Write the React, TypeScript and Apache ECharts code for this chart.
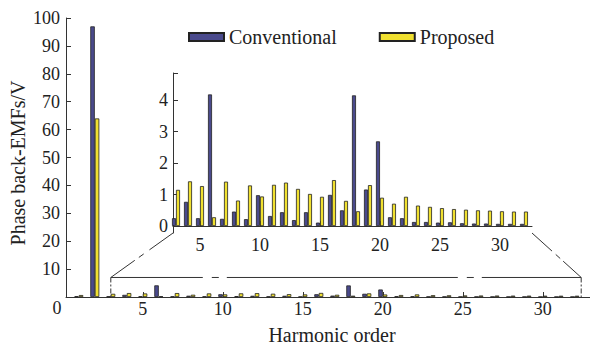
import React, { useEffect, useRef } from "react";
import * as echarts from "echarts";

const harmonics = [1, 2, 3, 4, 5, 6, 7, 8, 9, 10, 11, 12, 13, 14, 15, 16, 17, 18, 19, 20, 21, 22, 23, 24, 25, 26, 27, 28, 29, 30, 31, 32];
const conventional = [0.3, 97, 0.25, 0.77, 0.25, 4.18, 0.23, 0.46, 0.22, 0.98, 0.32, 0.44, 0.19, 0.44, 0.11, 0.99, 0.5, 4.15, 1.16, 2.69, 0.28, 0.25, 0.13, 0.13, 0.11, 0.12, 0.09, 0.08, 0.08, 0.07, 0.07, 0.07];
const proposed = [0.7, 64, 1.15, 1.42, 1.27, 0.28, 1.41, 0.81, 1.29, 0.94, 1.31, 1.38, 1.18, 1.02, 0.93, 1.46, 0.8, 0.47, 1.3, 0.9, 0.71, 0.93, 0.65, 0.61, 0.57, 0.54, 0.52, 0.5, 0.49, 0.47, 0.46, 0.46];
const mainYTicks = [0, 10, 20, 30, 40, 50, 60, 70, 80, 90, 100];
const xTicks = [5, 10, 15, 20, 25, 30];
const insetYTicks = [0, 1, 2, 3, 4];
const insetFirst = 3; // first harmonic shown in the inset
const zoomBox = { from: 3, to: 32.4, top: 7 };

const FONT = "Liberation Serif";
const BLUE = "#4a4a8c";
const YELLOW = "#f0e030";
const AX = "#333";

export default function App() {
  const ref = useRef<HTMLDivElement>(null);
  useEffect(() => {
    const chart = echarts.init(ref.current!, null, { renderer: "svg" });
    const pairs = (vals: number[], from: number) =>
      harmonics.map((h, i) => [h, vals[i]]).filter((p) => p[0] >= from);
    const barStyle = (c: string) => ({ color: c, borderColor: "#222", borderWidth: 0.8 });
    const axisCommon = {
      axisLine: { show: true, lineStyle: { color: AX, width: 1 } },
      splitLine: { show: false },
    };
    chart.setOption({
      animation: false,
      backgroundColor: "#fff",
      textStyle: { fontFamily: FONT },
      legend: {
        left: 188,
        top: 27,
        padding: 0,
        itemWidth: 35,
        itemHeight: 8,
        itemGap: 42,
        icon: "rect",
        textStyle: { fontSize: 20, fontFamily: FONT, color: "#222" },
        data: ["Conventional", "Proposed"],
      },
      grid: [
        { left: 66, top: 18, width: 524, height: 279, outerBoundsMode: "none" },
        { left: 173, top: 73, width: 359, height: 160, outerBoundsMode: "none" },
      ],
      xAxis: [
        {
          type: "value", gridIndex: 0, min: 0.2, max: 32.95,
          ...axisCommon,
          axisTick: { show: true, inside: true, length: 5, customValues: xTicks, lineStyle: { color: AX } },
          axisLabel: { customValues: xTicks, fontSize: 18, fontFamily: FONT, color: "#222", margin: 3 },
        },
        {
          type: "value", gridIndex: 1, min: 2.75, max: 32.67,
          ...axisCommon,
          axisTick: { show: true, inside: true, length: 5, customValues: xTicks, lineStyle: { color: AX } },
          axisLabel: { customValues: xTicks, fontSize: 18, fontFamily: FONT, color: "#222", margin: 3 },
        },
      ],
      yAxis: [
        {
          type: "value", gridIndex: 0, min: 0, max: 100, interval: 10,
          ...axisCommon,
          axisTick: { show: true, inside: true, length: 5, customValues: mainYTicks, lineStyle: { color: AX } },
          axisLabel: {
            fontSize: 18, fontFamily: FONT, color: "#222", margin: 6,
            formatter: (v: number) => (v === 0 ? "" : String(v)),
          },
        },
        {
          type: "value", gridIndex: 1, min: -0.22, max: 4.86,
          ...axisCommon,
          axisTick: { show: true, inside: true, length: 5, customValues: [...insetYTicks, 4.86], lineStyle: { color: AX } },
          axisLabel: { customValues: insetYTicks, fontSize: 18, fontFamily: FONT, color: "#222", margin: 5 },
        },
      ],
      series: [
        { name: "Conventional", type: "bar", xAxisIndex: 0, yAxisIndex: 0, barWidth: 4.5, barGap: "0%", data: pairs(conventional, 1), itemStyle: barStyle(BLUE) },
        { name: "Proposed", type: "bar", xAxisIndex: 0, yAxisIndex: 0, barWidth: 4.5, barGap: "0%", data: pairs(proposed, 1), itemStyle: barStyle(YELLOW) },
        { name: "Conventional", type: "bar", xAxisIndex: 1, yAxisIndex: 1, barWidth: 4, barGap: "0%", data: pairs(conventional, insetFirst), itemStyle: barStyle(BLUE) },
        { name: "Proposed", type: "bar", xAxisIndex: 1, yAxisIndex: 1, barWidth: 4, barGap: "0%", data: pairs(proposed, insetFirst), itemStyle: barStyle(YELLOW) },
      ],
    });

    const m = (p: number[]) => chart.convertToPixel({ xAxisIndex: 0, yAxisIndex: 0 }, p) as number[];
    const n = (p: number[]) => chart.convertToPixel({ xAxisIndex: 1, yAxisIndex: 1 }, p) as number[];
    const tl = m([zoomBox.from, zoomBox.top]);
    const br = m([zoomBox.to, 0]);
    const il = n([2.75, -0.22]);
    const ir = n([32.67, -0.22]);
    const ls = { stroke: AX, lineWidth: 1, fill: "none" };
    chart.setOption({
      graphic: [
        { type: "line", shape: { x1: tl[0], y1: tl[1], x2: br[0], y2: tl[1] }, style: { ...ls, lineDash: [231, 9, 7, 8], lineDashOffset: 139 } },
        { type: "line", shape: { x1: tl[0], y1: tl[1], x2: tl[0], y2: br[1] }, style: { ...ls, lineDash: [5, 2, 2, 2] } },
        { type: "line", shape: { x1: br[0], y1: tl[1], x2: br[0], y2: br[1] }, style: { ...ls, lineDash: [5, 2, 2, 2] } },
        { type: "line", shape: { x1: il[0], y1: il[1], x2: tl[0], y2: tl[1] }, style: { ...ls, lineDash: [29, 7, 6, 5, 300, 0] } },
        { type: "line", shape: { x1: ir[0], y1: ir[1], x2: br[0], y2: tl[1] }, style: { ...ls, lineDash: [27, 5, 6, 4, 300, 0] } },
        { type: "text", x: 57, y: 308, style: { text: "0", fontSize: 18, fontFamily: FONT, fill: "#222", align: "center", verticalAlign: "middle" } },
        { type: "text", x: 18, y: 163, rotation: Math.PI / 2, style: { text: "Phase back-EMFs/V", fontSize: 20, fontFamily: FONT, fill: "#222", align: "center", verticalAlign: "middle" } },
        { type: "text", x: 332, y: 335, style: { text: "Harmonic order", fontSize: 20, fontFamily: FONT, fill: "#222", align: "center", verticalAlign: "middle" } },
      ],
    });
    return () => chart.dispose();
  }, []);
  return <div ref={ref} style={{ position: "fixed", left: 0, top: 0, width: 590, height: 347 }} />;
}
